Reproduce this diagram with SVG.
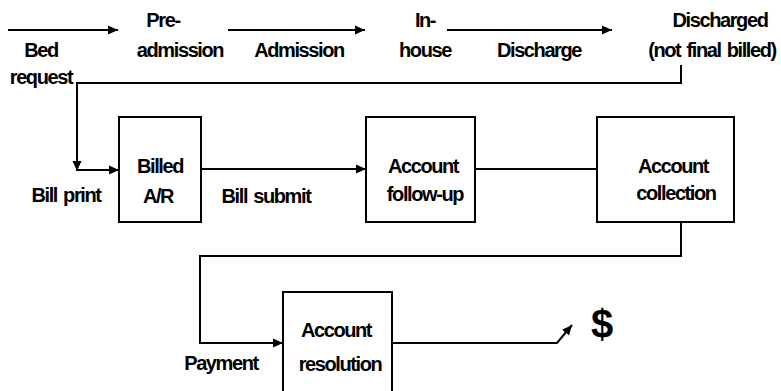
<svg xmlns="http://www.w3.org/2000/svg" width="781" height="391" viewBox="0 0 781 391">
<defs>
<style>
text{font-family:"Liberation Sans",Arial,sans-serif;font-weight:bold;font-size:20px;letter-spacing:-1.4px;word-spacing:2px;fill:#000;text-anchor:middle}
.c{fill:none;stroke:#000;stroke-width:2}
.box{fill:#fff;stroke:#000;stroke-width:2}
.dollar{font-size:40px;letter-spacing:0}
</style>
<marker id="ah" markerUnits="userSpaceOnUse" markerWidth="10" markerHeight="10" refX="10" refY="5" orient="auto">
<path d="M0,0.5 L10,5 L0,9.5 z" fill="#000"/>
</marker>
</defs>
<rect width="781" height="391" fill="#fff"/>
<g id="connectors">
<path class="c" d="M8,30 H118" marker-end="url(#ah)"/>
<path class="c" d="M228,30 H365" marker-end="url(#ah)"/>
<path class="c" d="M447,30 H612" marker-end="url(#ah)"/>
<path class="c" d="M681,65 V83 H77 V171" marker-end="url(#ah)"/>
<path class="c" d="M77,170 H119" marker-end="url(#ah)"/>
<path class="c" d="M201,169 H366" marker-end="url(#ah)"/>
<path class="c" d="M475,169 H597"/>
<path class="c" d="M681,222 V256 H200 V343 H283" marker-end="url(#ah)"/>
<path class="c" d="M392,343 H557 L572,325" marker-end="url(#ah)"/>
</g>
<g id="bed-request"><text x="41" y="57">Bed</text><text x="41" y="84">request</text></g>
<g id="pre-admission"><text x="163" y="27">Pre-</text><text x="180" y="57">admission</text></g>
<g id="admission"><text x="299" y="57">Admission</text></g>
<g id="in-house"><text x="425" y="27">In-</text><text x="425" y="57">house</text></g>
<g id="discharge"><text x="539" y="57">Discharge</text></g>
<g id="discharged"><text x="720" y="27">Discharged</text><text x="712" y="57">(not final billed)</text></g>
<g id="bill-print"><text x="66" y="202">Bill print</text></g>
<g id="billed-ar"><rect class="box" x="119" y="117" width="82" height="105"/><text x="160" y="173">Billed</text><text x="158" y="203">A/R</text></g>
<g id="bill-submit"><text x="266" y="203">Bill submit</text></g>
<g id="account-follow-up"><rect class="box" x="366" y="117" width="109" height="105"/><text x="423" y="173">Account</text><text x="425" y="201">follow-up</text></g>
<g id="account-collection"><rect class="box" x="597" y="117" width="137" height="105"/><text x="673" y="173">Account</text><text x="676" y="200">collection</text></g>
<g id="payment"><text x="221" y="370">Payment</text></g>
<g id="account-resolution"><rect class="box" x="283" y="292" width="109" height="110"/><text x="336" y="337">Account</text><text x="340" y="371">resolution</text></g>
<g id="dollar"><text class="dollar" x="602" y="338">$</text></g>
</svg>
